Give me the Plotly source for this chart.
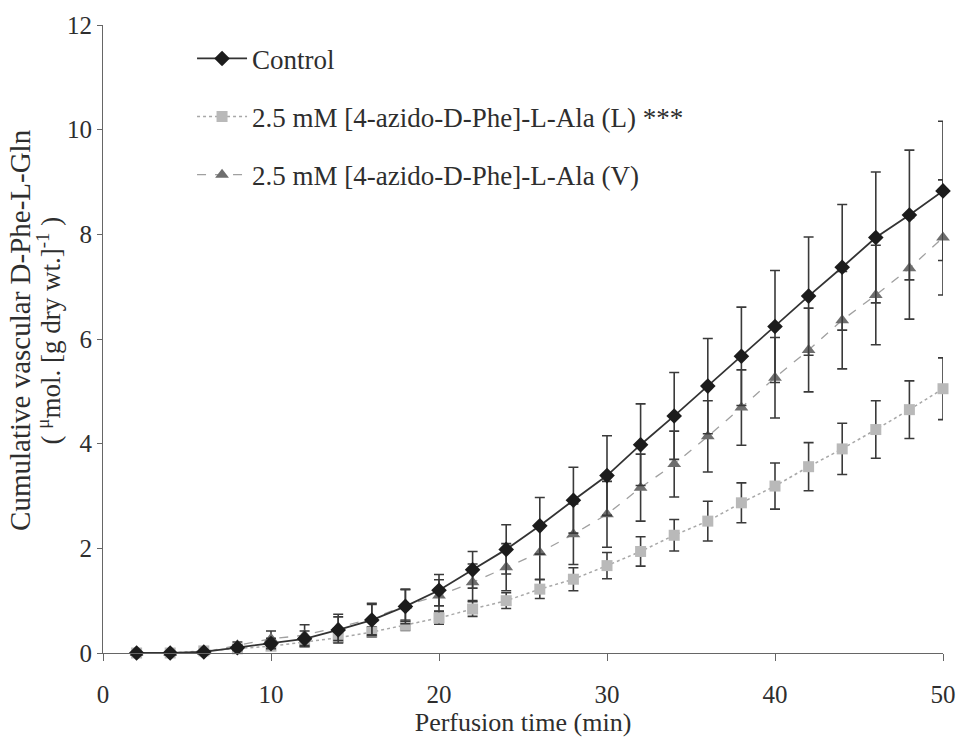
import plotly.graph_objects as go

time_min = [2, 4, 6, 8, 10, 12, 14, 16, 18, 20, 22, 24, 26, 28, 30, 32, 34, 36, 38, 40, 42, 44, 46, 48, 50]

control = [0, 0, 0.02, 0.10, 0.18, 0.27, 0.44, 0.63, 0.89, 1.20, 1.59, 1.98, 2.43, 2.92, 3.39, 3.98,
           4.53, 5.10, 5.67, 6.24, 6.82, 7.37, 7.94, 8.37, 8.83]
control_sem = [0, 0, 0.02, 0.05, 0.10, 0.15, 0.25, 0.30, 0.33, 0.30, 0.35, 0.47, 0.54, 0.63, 0.76, 0.78,
               0.83, 0.91, 0.94, 1.07, 1.13, 1.20, 1.25, 1.24, 1.33]

azido_L = [0, 0, 0.04, 0.08, 0.13, 0.21, 0.29, 0.40, 0.53, 0.67, 0.84, 1.00, 1.22, 1.41, 1.67, 1.94,
           2.25, 2.52, 2.87, 3.19, 3.56, 3.90, 4.27, 4.65, 5.05]
azido_L_sem = [0, 0, 0.02, 0.03, 0.05, 0.06, 0.08, 0.10, 0.10, 0.12, 0.14, 0.15, 0.18, 0.22, 0.25, 0.28,
               0.30, 0.38, 0.38, 0.44, 0.46, 0.49, 0.55, 0.55, 0.59]

azido_V = [0, 0, 0.02, 0.15, 0.27, 0.34, 0.49, 0.65, 0.91, 1.10, 1.35, 1.64, 1.92, 2.27, 2.65, 3.16,
           3.61, 4.14, 4.69, 5.26, 5.79, 6.36, 6.84, 7.35, 7.94]
azido_V_sem = [0, 0, 0.02, 0.06, 0.15, 0.20, 0.25, 0.30, 0.30, 0.30, 0.35, 0.45, 0.51, 0.58, 0.63, 0.64,
               0.63, 0.68, 0.72, 0.77, 0.80, 0.93, 0.95, 0.97, 1.10]

x_ticks = [0, 10, 20, 30, 40, 50]
y_ticks = [0, 2, 4, 6, 8, 10, 12]

FONT = "Liberation Serif"
TXT = "#2e2e2e"
ERR = "#3a3a3a"

fig = go.Figure()

fig.add_trace(go.Scatter(
    x=time_min, y=azido_L, name="2.5 mM [4-azido-D-Phe]-L-Ala (L) ***",
    mode="lines+markers", legendrank=2, legendgroup="L",
    line=dict(color="#a8a8a8", width=1.5, dash="dot"),
    marker=dict(symbol="square", size=11, color="#b9b9b9"),
    error_y=dict(type="data", array=azido_L_sem, color=ERR, thickness=1.6, width=5),
    cliponaxis=False,
))

fig.add_trace(go.Scatter(
    x=time_min, y=azido_V, name="2.5 mM [4-azido-D-Phe]-L-Ala (V)",
    mode="lines+markers", legendrank=3, legendgroup="V",
    line=dict(color="#a0a0a0", width=1.3, dash="dash"),
    marker=dict(symbol="triangle-up", size=12, color="#6e6e6e"),
    error_y=dict(type="data", array=azido_V_sem, color=ERR, thickness=1.6, width=5),
    cliponaxis=False,
))

fig.add_trace(go.Scatter(
    x=time_min, y=control, name="Control",
    mode="lines+markers", legendrank=1, legendgroup="C",
    line=dict(color="#333333", width=1.8),
    marker=dict(symbol="diamond", size=12, color="#1c1c1c"),
    error_y=dict(type="data", array=control_sem, color=ERR, thickness=1.6, width=5),
    cliponaxis=False,
))

fig.update_layout(
    width=968, height=748,
    margin=dict(l=103, r=18, t=21, b=95),
    paper_bgcolor="white", plot_bgcolor="white",
    font=dict(family=FONT, size=25, color=TXT),
    showlegend=True,
    legend=dict(
        x=0.106, y=0.985, xanchor="left", yanchor="top",
        bgcolor="rgba(0,0,0,0)", font=dict(family=FONT, size=27, color=TXT),
        traceorder="grouped", tracegroupgap=20, itemwidth=50,
    ),
    xaxis=dict(
        range=[0, 50], tickvals=x_ticks, ticks="outside", ticklen=7, tickwidth=1,
        tickcolor="#666666", showline=True, linecolor="#666666", linewidth=1.2,
        showgrid=False, zeroline=False, ticklabelstandoff=12,
        tickfont=dict(family=FONT, size=25, color=TXT),
        title=dict(text="Perfusion time (min)", standoff=4,
                   font=dict(family=FONT, size=26, color=TXT)),
    ),
    yaxis=dict(
        range=[0, 12], tickvals=y_ticks, ticks="outside", ticklen=5, tickwidth=1,
        tickcolor="#666666", showline=True, linecolor="#666666", linewidth=1.2,
        showgrid=False, zeroline=False,
        tickfont=dict(family=FONT, size=25, color=TXT),
    ),
    annotations=[
        dict(text="Cumulative vascular D-Phe-L-Gln", textangle=-90,
             xref="paper", yref="paper", x=-0.098, y=0.514,
             xanchor="center", yanchor="middle", showarrow=False,
             font=dict(family=FONT, size=29, color=TXT)),
        dict(text="( <sup>μ</sup>mol. [g dry wt.]<sup>-1</sup> )", textangle=-90,
             xref="paper", yref="paper", x=-0.064, y=0.514,
             xanchor="center", yanchor="middle", showarrow=False,
             font=dict(family=FONT, size=27, color=TXT)),
    ],
)

fig.write_html("out.html")
